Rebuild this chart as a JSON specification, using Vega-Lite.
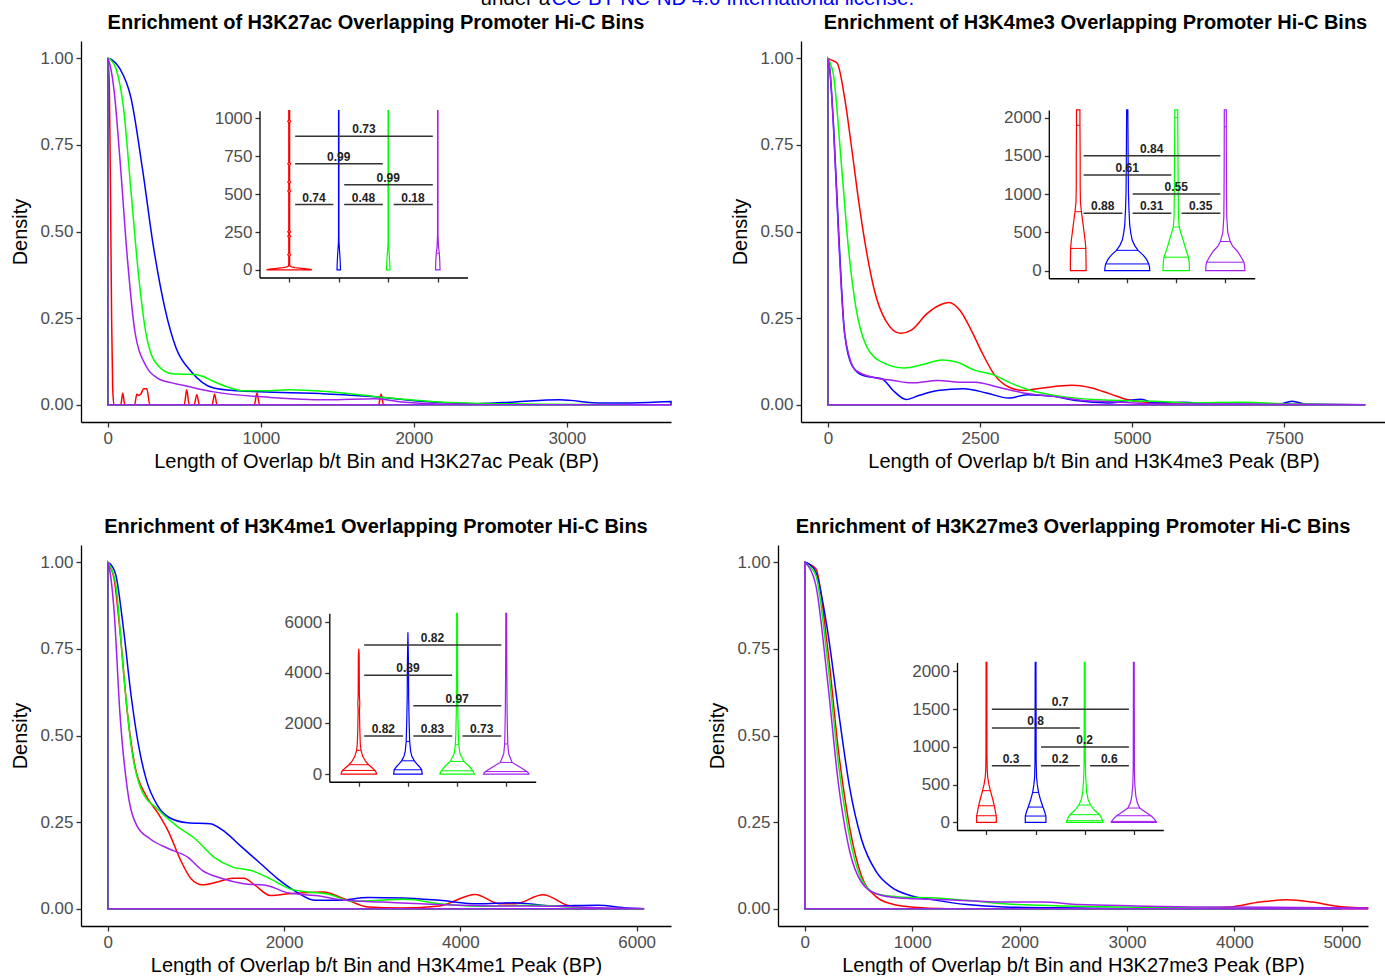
{
"$schema": "https://vega.github.io/schema/vega-lite/v6.json",
"padding": {"left": 10, "top": -12, "right": 0, "bottom": 0},
"title": {"text": "under a", "anchor": "start", "frame": "group", "dx": 399.5, "fontSize": 20.5, "fontWeight": "normal", "color": "#000000", "offset": -20.5},
"bounds": "flush",
"spacing": 504,
"datasets": {
"d1": [
{"g":"red","x":0,"y":1},{"g":"red","x":10,"y":0.93},{"g":"red","x":18,"y":0.6},{"g":"red","x":25,"y":0.25},{"g":"red","x":32,"y":0.05},{"g":"red","x":40,"y":0},{"g":"red","x":85,"y":0},{"g":"red","x":98,"y":0.034},{"g":"red","x":111,"y":0},{"g":"red","x":175,"y":0},{"g":"red","x":190,"y":0.03},{"g":"red","x":202,"y":0.027},{"g":"red","x":215,"y":0.03},{"g":"red","x":235,"y":0.046},{"g":"red","x":255,"y":0.046},{"g":"red","x":275,"y":0},{"g":"red","x":500,"y":0},{"g":"red","x":516,"y":0.043},{"g":"red","x":532,"y":0},{"g":"red","x":565,"y":0},{"g":"red","x":582,"y":0.029},{"g":"red","x":599,"y":0},{"g":"red","x":682,"y":0},{"g":"red","x":698,"y":0.031},{"g":"red","x":714,"y":0},{"g":"red","x":958,"y":0},{"g":"red","x":975,"y":0.034},{"g":"red","x":992,"y":0},{"g":"red","x":1770,"y":0},{"g":"red","x":1786,"y":0.031},{"g":"red","x":1802,"y":0},{"g":"red","x":1850,"y":0},
{"g":"blue","x":0,"y":1},{"g":"blue","x":30,"y":0.995},{"g":"blue","x":79,"y":0.97},{"g":"blue","x":152,"y":0.885},{"g":"blue","x":226,"y":0.683},{"g":"blue","x":300,"y":0.452},{"g":"blue","x":373,"y":0.279},{"g":"blue","x":447,"y":0.163},{"g":"blue","x":545,"y":0.096},{"g":"blue","x":693,"y":0.048},{"g":"blue","x":850,"y":0.04},{"g":"blue","x":1000,"y":0.037},{"g":"blue","x":1430,"y":0.031},{"g":"blue","x":1799,"y":0.021},{"g":"blue","x":2044,"y":0.01},{"g":"blue","x":2413,"y":0.003},{"g":"blue","x":2658,"y":0.008},{"g":"blue","x":2953,"y":0.014},{"g":"blue","x":3224,"y":0.005},{"g":"blue","x":3420,"y":0.005},{"g":"blue","x":3681,"y":0.009},
{"g":"green","x":0,"y":1},{"g":"green","x":20,"y":0.995},{"g":"green","x":54,"y":0.97},{"g":"green","x":103,"y":0.856},{"g":"green","x":152,"y":0.615},{"g":"green","x":201,"y":0.375},{"g":"green","x":251,"y":0.202},{"g":"green","x":324,"y":0.115},{"g":"green","x":423,"y":0.089},{"g":"green","x":500,"y":0.088},{"g":"green","x":570,"y":0.087},{"g":"green","x":630,"y":0.08},{"g":"green","x":693,"y":0.067},{"g":"green","x":790,"y":0.05},{"g":"green","x":890,"y":0.04},{"g":"green","x":1030,"y":0.04},{"g":"green","x":1184,"y":0.043},{"g":"green","x":1430,"y":0.038},{"g":"green","x":1799,"y":0.021},{"g":"green","x":2167,"y":0.008},{"g":"green","x":2536,"y":0.003},{"g":"green","x":2900,"y":0.001},{"g":"green","x":3400,"y":0},
{"g":"purple","x":0,"y":1},{"g":"purple","x":15,"y":0.98},{"g":"purple","x":42,"y":0.904},{"g":"purple","x":79,"y":0.712},{"g":"purple","x":128,"y":0.423},{"g":"purple","x":177,"y":0.212},{"g":"purple","x":251,"y":0.111},{"g":"purple","x":324,"y":0.077},{"g":"purple","x":420,"y":0.063},{"g":"purple","x":521,"y":0.053},{"g":"purple","x":693,"y":0.037},{"g":"purple","x":1061,"y":0.021},{"g":"purple","x":1430,"y":0.014},{"g":"purple","x":1750,"y":0.017},{"g":"purple","x":1921,"y":0.008},{"g":"purple","x":2167,"y":0.002},{"g":"purple","x":2600,"y":0},{"g":"purple","x":3681,"y":0}
],
"d2": [
{"g":"red","x":0,"y":1},{"g":"red","x":60,"y":0.995},{"g":"red","x":153,"y":0.986},{"g":"red","x":276,"y":0.885},{"g":"red","x":398,"y":0.731},{"g":"red","x":521,"y":0.569},{"g":"red","x":643,"y":0.434},{"g":"red","x":766,"y":0.329},{"g":"red","x":950,"y":0.243},{"g":"red","x":1195,"y":0.206},{"g":"red","x":1379,"y":0.216},{"g":"red","x":1624,"y":0.262},{"g":"red","x":1869,"y":0.29},{"g":"red","x":1991,"y":0.295},{"g":"red","x":2175,"y":0.271},{"g":"red","x":2359,"y":0.214},{"g":"red","x":2543,"y":0.147},{"g":"red","x":2727,"y":0.089},{"g":"red","x":2972,"y":0.051},{"g":"red","x":3217,"y":0.041},{"g":"red","x":3523,"y":0.048},{"g":"red","x":4013,"y":0.056},{"g":"red","x":4320,"y":0.049},{"g":"red","x":4626,"y":0.032},{"g":"red","x":4933,"y":0.014},{"g":"red","x":5362,"y":0.005},{"g":"red","x":6000,"y":0.001},{"g":"red","x":8833,"y":0},
{"g":"blue","x":0,"y":1},{"g":"blue","x":30,"y":0.97},{"g":"blue","x":92,"y":0.808},{"g":"blue","x":184,"y":0.473},{"g":"blue","x":276,"y":0.204},{"g":"blue","x":398,"y":0.113},{"g":"blue","x":582,"y":0.084},{"g":"blue","x":888,"y":0.075},{"g":"blue","x":1072,"y":0.041},{"g":"blue","x":1287,"y":0.015},{"g":"blue","x":1501,"y":0.027},{"g":"blue","x":1808,"y":0.041},{"g":"blue","x":2237,"y":0.046},{"g":"blue","x":2604,"y":0.034},{"g":"blue","x":2972,"y":0.019},{"g":"blue","x":3278,"y":0.029},{"g":"blue","x":3707,"y":0.024},{"g":"blue","x":4075,"y":0.012},{"g":"blue","x":4626,"y":0.005},{"g":"blue","x":5148,"y":0.016},{"g":"blue","x":5362,"y":0.005},{"g":"blue","x":5852,"y":0.007},{"g":"blue","x":6281,"y":0.001},{"g":"blue","x":7400,"y":0.001},{"g":"blue","x":7629,"y":0.01},{"g":"blue","x":7874,"y":0.001},{"g":"blue","x":8833,"y":0},
{"g":"green","x":0,"y":1},{"g":"green","x":30,"y":0.99},{"g":"green","x":92,"y":0.952},{"g":"green","x":214,"y":0.712},{"g":"green","x":337,"y":0.453},{"g":"green","x":460,"y":0.281},{"g":"green","x":643,"y":0.166},{"g":"green","x":888,"y":0.123},{"g":"green","x":1256,"y":0.106},{"g":"green","x":1562,"y":0.116},{"g":"green","x":1869,"y":0.129},{"g":"green","x":2114,"y":0.123},{"g":"green","x":2420,"y":0.099},{"g":"green","x":2727,"y":0.086},{"g":"green","x":2972,"y":0.065},{"g":"green","x":3339,"y":0.041},{"g":"green","x":3830,"y":0.024},{"g":"green","x":4442,"y":0.014},{"g":"green","x":5362,"y":0.01},{"g":"green","x":5974,"y":0.005},{"g":"green","x":6771,"y":0.007},{"g":"green","x":7506,"y":0.003},{"g":"green","x":8833,"y":0},
{"g":"purple","x":0,"y":1},{"g":"purple","x":30,"y":0.97},{"g":"purple","x":92,"y":0.8},{"g":"purple","x":184,"y":0.455},{"g":"purple","x":276,"y":0.204},{"g":"purple","x":460,"y":0.099},{"g":"purple","x":766,"y":0.078},{"g":"purple","x":1072,"y":0.07},{"g":"purple","x":1379,"y":0.063},{"g":"purple","x":1808,"y":0.07},{"g":"purple","x":2175,"y":0.065},{"g":"purple","x":2420,"y":0.065},{"g":"purple","x":2788,"y":0.051},{"g":"purple","x":3217,"y":0.034},{"g":"purple","x":3707,"y":0.024},{"g":"purple","x":4197,"y":0.012},{"g":"purple","x":4749,"y":0.008},{"g":"purple","x":5362,"y":0.002},{"g":"purple","x":8833,"y":0}
],
"d3": [
{"g":"red","x":0,"y":1},{"g":"red","x":25,"y":0.99},{"g":"red","x":73,"y":0.95},{"g":"red","x":137,"y":0.806},{"g":"red","x":222,"y":0.566},{"g":"red","x":307,"y":0.413},{"g":"red","x":435,"y":0.326},{"g":"red","x":563,"y":0.278},{"g":"red","x":691,"y":0.221},{"g":"red","x":819,"y":0.144},{"g":"red","x":947,"y":0.086},{"g":"red","x":1075,"y":0.069},{"g":"red","x":1246,"y":0.077},{"g":"red","x":1417,"y":0.088},{"g":"red","x":1545,"y":0.088},{"g":"red","x":1673,"y":0.067},{"g":"red","x":1844,"y":0.038},{"g":"red","x":2057,"y":0.043},{"g":"red","x":2441,"y":0.048},{"g":"red","x":2697,"y":0.027},{"g":"red","x":2953,"y":0.005},{"g":"red","x":3338,"y":0.002},{"g":"red","x":3764,"y":0.008},{"g":"red","x":4170,"y":0.041},{"g":"red","x":4447,"y":0.014},{"g":"red","x":4618,"y":0.014},{"g":"red","x":4938,"y":0.04},{"g":"red","x":5216,"y":0.01},{"g":"red","x":5472,"y":0},{"g":"red","x":6085,"y":0},
{"g":"blue","x":0,"y":1},{"g":"blue","x":30,"y":0.995},{"g":"blue","x":94,"y":0.96},{"g":"blue","x":179,"y":0.806},{"g":"blue","x":265,"y":0.614},{"g":"blue","x":350,"y":0.47},{"g":"blue","x":435,"y":0.374},{"g":"blue","x":563,"y":0.298},{"g":"blue","x":691,"y":0.264},{"g":"blue","x":905,"y":0.248},{"g":"blue","x":1161,"y":0.245},{"g":"blue","x":1332,"y":0.221},{"g":"blue","x":1502,"y":0.182},{"g":"blue","x":1716,"y":0.134},{"g":"blue","x":1929,"y":0.086},{"g":"blue","x":2143,"y":0.048},{"g":"blue","x":2356,"y":0.024},{"g":"blue","x":2612,"y":0.024},{"g":"blue","x":2953,"y":0.032},{"g":"blue","x":3338,"y":0.031},{"g":"blue","x":3764,"y":0.024},{"g":"blue","x":4191,"y":0.014},{"g":"blue","x":4618,"y":0.017},{"g":"blue","x":5044,"y":0.008},{"g":"blue","x":5557,"y":0.01},{"g":"blue","x":5898,"y":0.002},{"g":"blue","x":6085,"y":0},
{"g":"green","x":0,"y":1},{"g":"green","x":25,"y":0.99},{"g":"green","x":94,"y":0.93},{"g":"green","x":179,"y":0.681},{"g":"green","x":265,"y":0.47},{"g":"green","x":393,"y":0.336},{"g":"green","x":563,"y":0.288},{"g":"green","x":777,"y":0.24},{"g":"green","x":990,"y":0.202},{"g":"green","x":1203,"y":0.149},{"g":"green","x":1417,"y":0.12},{"g":"green","x":1630,"y":0.11},{"g":"green","x":1844,"y":0.086},{"g":"green","x":2057,"y":0.058},{"g":"green","x":2271,"y":0.048},{"g":"green","x":2484,"y":0.043},{"g":"green","x":2783,"y":0.021},{"g":"green","x":3381,"y":0.027},{"g":"green","x":3764,"y":0.014},{"g":"green","x":4191,"y":0.007},{"g":"green","x":4831,"y":0.01},{"g":"green","x":5258,"y":0.005},{"g":"green","x":5898,"y":0},{"g":"green","x":6085,"y":0},
{"g":"purple","x":0,"y":1},{"g":"purple","x":20,"y":0.98},{"g":"purple","x":73,"y":0.854},{"g":"purple","x":137,"y":0.566},{"g":"purple","x":222,"y":0.345},{"g":"purple","x":329,"y":0.24},{"g":"purple","x":478,"y":0.202},{"g":"purple","x":691,"y":0.173},{"g":"purple","x":905,"y":0.149},{"g":"purple","x":1075,"y":0.11},{"g":"purple","x":1288,"y":0.088},{"g":"purple","x":1545,"y":0.072},{"g":"purple","x":1801,"y":0.067},{"g":"purple","x":2057,"y":0.045},{"g":"purple","x":2356,"y":0.038},{"g":"purple","x":2697,"y":0.024},{"g":"purple","x":3124,"y":0.019},{"g":"purple","x":3551,"y":0.014},{"g":"purple","x":3978,"y":0.01},{"g":"purple","x":4405,"y":0.008},{"g":"purple","x":5044,"y":0.007},{"g":"purple","x":5685,"y":0.002},{"g":"purple","x":6085,"y":0}
],
"d4": [
{"g":"red","x":0,"y":1},{"g":"red","x":40,"y":0.995},{"g":"red","x":105,"y":0.98},{"g":"red","x":210,"y":0.758},{"g":"red","x":315,"y":0.451},{"g":"red","x":420,"y":0.23},{"g":"red","x":526,"y":0.096},{"g":"red","x":666,"y":0.034},{"g":"red","x":806,"y":0.014},{"g":"red","x":981,"y":0.005},{"g":"red","x":1331,"y":0},{"g":"red","x":3700,"y":0},{"g":"red","x":3959,"y":0.005},{"g":"red","x":4240,"y":0.019},{"g":"red","x":4485,"y":0.026},{"g":"red","x":4730,"y":0.019},{"g":"red","x":4940,"y":0.008},{"g":"red","x":5240,"y":0.002},
{"g":"blue","x":0,"y":1},{"g":"blue","x":40,"y":0.995},{"g":"blue","x":105,"y":0.97},{"g":"blue","x":210,"y":0.806},{"g":"blue","x":315,"y":0.566},{"g":"blue","x":420,"y":0.345},{"g":"blue","x":526,"y":0.202},{"g":"blue","x":666,"y":0.106},{"g":"blue","x":806,"y":0.062},{"g":"blue","x":981,"y":0.038},{"g":"blue","x":1226,"y":0.024},{"g":"blue","x":1507,"y":0.012},{"g":"blue","x":1857,"y":0.005},{"g":"blue","x":2558,"y":0.002},{"g":"blue","x":3200,"y":0},{"g":"blue","x":4994,"y":0},
{"g":"green","x":0,"y":1},{"g":"green","x":40,"y":0.99},{"g":"green","x":105,"y":0.96},{"g":"green","x":210,"y":0.72},{"g":"green","x":315,"y":0.413},{"g":"green","x":420,"y":0.202},{"g":"green","x":526,"y":0.086},{"g":"green","x":666,"y":0.043},{"g":"green","x":876,"y":0.034},{"g":"green","x":1226,"y":0.031},{"g":"green","x":1507,"y":0.024},{"g":"green","x":1857,"y":0.014},{"g":"green","x":2383,"y":0.008},{"g":"green","x":2908,"y":0.005},{"g":"green","x":3600,"y":0.002},{"g":"green","x":4994,"y":0},
{"g":"purple","x":0,"y":1},{"g":"purple","x":30,"y":0.99},{"g":"purple","x":105,"y":0.93},{"g":"purple","x":210,"y":0.662},{"g":"purple","x":315,"y":0.355},{"g":"purple","x":420,"y":0.163},{"g":"purple","x":526,"y":0.077},{"g":"purple","x":666,"y":0.043},{"g":"purple","x":876,"y":0.031},{"g":"purple","x":1331,"y":0.026},{"g":"purple","x":1857,"y":0.019},{"g":"purple","x":2207,"y":0.019},{"g":"purple","x":2558,"y":0.012},{"g":"purple","x":3084,"y":0.008},{"g":"purple","x":3609,"y":0.005},{"g":"purple","x":4310,"y":0.004},{"g":"purple","x":5240,"y":0.002}
],
"v1": [
{"g":"red","v":0,"lo":0.54,"hi":1.46},{"g":"red","v":5,"lo":0.6,"hi":1.4},{"g":"red","v":10,"lo":0.75,"hi":1.25},{"g":"red","v":15,"lo":0.88,"hi":1.12},{"g":"red","v":20,"lo":0.95,"hi":1.05},{"g":"red","v":25,"lo":0.985,"hi":1.015},{"g":"red","v":40,"lo":0.99,"hi":1.01},{"g":"red","v":92,"lo":0.99,"hi":1.01},{"g":"red","v":100,"lo":0.97,"hi":1.03},{"g":"red","v":108,"lo":0.99,"hi":1.01},{"g":"red","v":215,"lo":0.99,"hi":1.01},{"g":"red","v":222,"lo":0.97,"hi":1.03},{"g":"red","v":229,"lo":0.99,"hi":1.01},{"g":"red","v":245,"lo":0.99,"hi":1.01},{"g":"red","v":252,"lo":0.97,"hi":1.03},{"g":"red","v":259,"lo":0.99,"hi":1.01},{"g":"red","v":512,"lo":0.99,"hi":1.01},{"g":"red","v":520,"lo":0.97,"hi":1.03},{"g":"red","v":528,"lo":0.99,"hi":1.01},{"g":"red","v":572,"lo":0.99,"hi":1.01},{"g":"red","v":580,"lo":0.97,"hi":1.03},{"g":"red","v":588,"lo":0.99,"hi":1.01},{"g":"red","v":692,"lo":0.99,"hi":1.01},{"g":"red","v":700,"lo":0.97,"hi":1.03},{"g":"red","v":708,"lo":0.99,"hi":1.01},{"g":"red","v":972,"lo":0.99,"hi":1.01},{"g":"red","v":980,"lo":0.97,"hi":1.03},{"g":"red","v":988,"lo":0.99,"hi":1.01},{"g":"red","v":1050,"lo":0.99,"hi":1.01},
{"g":"blue","v":0,"lo":1.965,"hi":2.035},{"g":"blue","v":50,"lo":1.97,"hi":2.03},{"g":"blue","v":100,"lo":1.978,"hi":2.022},{"g":"blue","v":150,"lo":1.988,"hi":2.012},{"g":"blue","v":180,"lo":1.994,"hi":2.006},{"g":"blue","v":220,"lo":1.996,"hi":2.004},{"g":"blue","v":1050,"lo":1.996,"hi":2.004},
{"g":"green","v":0,"lo":2.965,"hi":3.035},{"g":"green","v":50,"lo":2.97,"hi":3.03},{"g":"green","v":100,"lo":2.98,"hi":3.02},{"g":"green","v":150,"lo":2.992,"hi":3.008},{"g":"green","v":180,"lo":2.996,"hi":3.004},{"g":"green","v":1050,"lo":2.996,"hi":3.004},
{"g":"purple","v":0,"lo":3.955,"hi":4.045},{"g":"purple","v":60,"lo":3.96,"hi":4.04},{"g":"purple","v":110,"lo":3.97,"hi":4.03},{"g":"purple","v":150,"lo":3.985,"hi":4.015},{"g":"purple","v":230,"lo":3.995,"hi":4.005},{"g":"purple","v":1050,"lo":3.996,"hi":4.004}
],
"q1": [
{"g":"purple","v":110,"lo":3.97,"hi":4.03}
],
"b1": [
{"v":882,"x1":1.12,"x2":3.9,"xm":2.51,"lab":"0.73"},{"v":700,"x1":1.12,"x2":2.89,"xm":2.0,"lab":"0.99"},{"v":562,"x1":2.11,"x2":3.9,"xm":3.0,"lab":"0.99"},{"v":431,"x1":1.12,"x2":1.89,"xm":1.5,"lab":"0.74"},{"v":431,"x1":2.11,"x2":2.89,"xm":2.5,"lab":"0.48"},{"v":431,"x1":3.11,"x2":3.9,"xm":3.5,"lab":"0.18"}
],
"v2": [
{"g":"red","v":0,"lo":0.84,"hi":1.16},{"g":"red","v":100,"lo":0.84,"hi":1.16},{"g":"red","v":290,"lo":0.845,"hi":1.155},{"g":"red","v":400,"lo":0.86,"hi":1.14},{"g":"red","v":500,"lo":0.88,"hi":1.12},{"g":"red","v":650,"lo":0.91,"hi":1.09},{"g":"red","v":770,"lo":0.935,"hi":1.065},{"g":"red","v":900,"lo":0.955,"hi":1.045},{"g":"red","v":1100,"lo":0.96,"hi":1.04},{"g":"red","v":1500,"lo":0.96,"hi":1.04},{"g":"red","v":1900,"lo":0.965,"hi":1.035},{"g":"red","v":2100,"lo":0.965,"hi":1.035},
{"g":"blue","v":0,"lo":1.54,"hi":2.46},{"g":"blue","v":40,"lo":1.545,"hi":2.455},{"g":"blue","v":87,"lo":1.56,"hi":2.44},{"g":"blue","v":150,"lo":1.61,"hi":2.39},{"g":"blue","v":200,"lo":1.67,"hi":2.33},{"g":"blue","v":265,"lo":1.78,"hi":2.22},{"g":"blue","v":330,"lo":1.85,"hi":2.15},{"g":"blue","v":400,"lo":1.9,"hi":2.1},{"g":"blue","v":500,"lo":1.93,"hi":2.07},{"g":"blue","v":600,"lo":1.95,"hi":2.05},{"g":"blue","v":800,"lo":1.965,"hi":2.035},{"g":"blue","v":1000,"lo":1.975,"hi":2.025},{"g":"blue","v":1500,"lo":1.982,"hi":2.018},{"g":"blue","v":2100,"lo":1.988,"hi":2.012},
{"g":"green","v":0,"lo":2.73,"hi":3.27},{"g":"green","v":100,"lo":2.735,"hi":3.265},{"g":"green","v":175,"lo":2.75,"hi":3.25},{"g":"green","v":250,"lo":2.79,"hi":3.21},{"g":"green","v":330,"lo":2.83,"hi":3.17},{"g":"green","v":400,"lo":2.86,"hi":3.14},{"g":"green","v":500,"lo":2.91,"hi":3.09},{"g":"green","v":570,"lo":2.94,"hi":3.06},{"g":"green","v":700,"lo":2.955,"hi":3.045},{"g":"green","v":1000,"lo":2.96,"hi":3.04},{"g":"green","v":1500,"lo":2.965,"hi":3.035},{"g":"green","v":2000,"lo":2.97,"hi":3.03},{"g":"green","v":2100,"lo":2.97,"hi":3.03},
{"g":"purple","v":0,"lo":3.6,"hi":4.4},{"g":"purple","v":60,"lo":3.605,"hi":4.395},{"g":"purple","v":110,"lo":3.62,"hi":4.38},{"g":"purple","v":180,"lo":3.68,"hi":4.32},{"g":"purple","v":250,"lo":3.75,"hi":4.25},{"g":"purple","v":320,"lo":3.85,"hi":4.15},{"g":"purple","v":380,"lo":3.9,"hi":4.1},{"g":"purple","v":500,"lo":3.95,"hi":4.05},{"g":"purple","v":700,"lo":3.97,"hi":4.03},{"g":"purple","v":1000,"lo":3.975,"hi":4.025},{"g":"purple","v":1500,"lo":3.978,"hi":4.022},{"g":"purple","v":2100,"lo":3.98,"hi":4.02}
],
"q2": [
{"g":"red","v":290,"lo":0.845,"hi":1.155},{"g":"red","v":770,"lo":0.935,"hi":1.065},{"g":"red","v":1900,"lo":0.965,"hi":1.035},
{"g":"blue","v":87,"lo":1.56,"hi":2.44},{"g":"blue","v":265,"lo":1.78,"hi":2.22},
{"g":"green","v":175,"lo":2.75,"hi":3.25},{"g":"green","v":570,"lo":2.94,"hi":3.06},{"g":"green","v":2000,"lo":2.97,"hi":3.03},
{"g":"purple","v":110,"lo":3.62,"hi":4.38},{"g":"purple","v":380,"lo":3.9,"hi":4.1},{"g":"purple","v":1880,"lo":3.978,"hi":4.022}
],
"b2": [
{"v":1500,"x1":1.11,"x2":3.9,"xm":2.5,"lab":"0.84"},{"v":1250,"x1":1.11,"x2":2.9,"xm":2.0,"lab":"0.61"},{"v":1000,"x1":2.11,"x2":3.9,"xm":3.0,"lab":"0.55"},{"v":750,"x1":1.11,"x2":1.9,"xm":1.5,"lab":"0.88"},{"v":750,"x1":2.11,"x2":2.9,"xm":2.5,"lab":"0.31"},{"v":750,"x1":3.11,"x2":3.9,"xm":3.5,"lab":"0.35"}
],
"v3": [
{"g":"red","v":0,"lo":0.64,"hi":1.36},{"g":"red","v":80,"lo":0.65,"hi":1.35},{"g":"red","v":145,"lo":0.67,"hi":1.33},{"g":"red","v":250,"lo":0.73,"hi":1.27},{"g":"red","v":370,"lo":0.8,"hi":1.2},{"g":"red","v":500,"lo":0.86,"hi":1.14},{"g":"red","v":700,"lo":0.92,"hi":1.08},{"g":"red","v":940,"lo":0.955,"hi":1.045},{"g":"red","v":1200,"lo":0.97,"hi":1.03},{"g":"red","v":1800,"lo":0.98,"hi":1.02},{"g":"red","v":2500,"lo":0.987,"hi":1.013},{"g":"red","v":2800,"lo":0.98,"hi":1.02},{"g":"red","v":3100,"lo":0.988,"hi":1.012},{"g":"red","v":4000,"lo":0.99,"hi":1.01},{"g":"red","v":4700,"lo":0.992,"hi":1.008},{"g":"red","v":4950,"lo":1,"hi":1},
{"g":"blue","v":0,"lo":1.71,"hi":2.29},{"g":"blue","v":80,"lo":1.715,"hi":2.285},{"g":"blue","v":170,"lo":1.72,"hi":2.28},{"g":"blue","v":300,"lo":1.77,"hi":2.23},{"g":"blue","v":400,"lo":1.82,"hi":2.18},{"g":"blue","v":525,"lo":1.87,"hi":2.13},{"g":"blue","v":700,"lo":1.92,"hi":2.08},{"g":"blue","v":900,"lo":1.945,"hi":2.055},{"g":"blue","v":1290,"lo":1.965,"hi":2.035},{"g":"blue","v":1700,"lo":1.97,"hi":2.03},{"g":"blue","v":2000,"lo":1.975,"hi":2.025},{"g":"blue","v":3000,"lo":1.985,"hi":2.015},{"g":"blue","v":4500,"lo":1.99,"hi":2.01},{"g":"blue","v":5600,"lo":2,"hi":2},
{"g":"green","v":0,"lo":2.65,"hi":3.35},{"g":"green","v":60,"lo":2.66,"hi":3.34},{"g":"green","v":130,"lo":2.68,"hi":3.32},{"g":"green","v":300,"lo":2.75,"hi":3.25},{"g":"green","v":500,"lo":2.86,"hi":3.14},{"g":"green","v":800,"lo":2.94,"hi":3.06},{"g":"green","v":1160,"lo":2.965,"hi":3.035},{"g":"green","v":1600,"lo":2.975,"hi":3.025},{"g":"green","v":2500,"lo":2.985,"hi":3.015},{"g":"green","v":4000,"lo":2.99,"hi":3.01},{"g":"green","v":6350,"lo":2.992,"hi":3.008},
{"g":"purple","v":0,"lo":3.54,"hi":4.46},{"g":"purple","v":50,"lo":3.55,"hi":4.45},{"g":"purple","v":100,"lo":3.58,"hi":4.42},{"g":"purple","v":250,"lo":3.7,"hi":4.3},{"g":"purple","v":460,"lo":3.88,"hi":4.12},{"g":"purple","v":800,"lo":3.95,"hi":4.05},{"g":"purple","v":1190,"lo":3.968,"hi":4.032},{"g":"purple","v":1700,"lo":3.975,"hi":4.025},{"g":"purple","v":2500,"lo":3.982,"hi":4.018},{"g":"purple","v":4000,"lo":3.988,"hi":4.012},{"g":"purple","v":6350,"lo":3.992,"hi":4.008}
],
"q3": [
{"g":"red","v":145,"lo":0.67,"hi":1.33},{"g":"red","v":370,"lo":0.8,"hi":1.2},{"g":"red","v":940,"lo":0.955,"hi":1.045},
{"g":"blue","v":170,"lo":1.72,"hi":2.28},{"g":"blue","v":525,"lo":1.87,"hi":2.13},{"g":"blue","v":1290,"lo":1.965,"hi":2.035},
{"g":"green","v":130,"lo":2.68,"hi":3.32},{"g":"green","v":500,"lo":2.86,"hi":3.14},{"g":"green","v":1160,"lo":2.965,"hi":3.035},
{"g":"purple","v":100,"lo":3.58,"hi":4.42},{"g":"purple","v":460,"lo":3.88,"hi":4.12},{"g":"purple","v":1190,"lo":3.968,"hi":4.032}
],
"b3": [
{"v":5100,"x1":1.11,"x2":3.9,"xm":2.5,"lab":"0.82"},{"v":3900,"x1":1.11,"x2":2.9,"xm":2.0,"lab":"0.89"},{"v":2700,"x1":2.11,"x2":3.9,"xm":3.0,"lab":"0.97"},{"v":1500,"x1":1.11,"x2":1.9,"xm":1.5,"lab":"0.82"},{"v":1500,"x1":2.11,"x2":2.9,"xm":2.5,"lab":"0.83"},{"v":1500,"x1":3.11,"x2":3.9,"xm":3.5,"lab":"0.73"}
],
"v4": [
{"g":"red","v":0,"lo":0.8,"hi":1.2},{"g":"red","v":88,"lo":0.8,"hi":1.2},{"g":"red","v":150,"lo":0.82,"hi":1.18},{"g":"red","v":220,"lo":0.84,"hi":1.16},{"g":"red","v":300,"lo":0.87,"hi":1.13},{"g":"red","v":420,"lo":0.92,"hi":1.08},{"g":"red","v":500,"lo":0.95,"hi":1.05},{"g":"red","v":600,"lo":0.975,"hi":1.025},{"g":"red","v":700,"lo":0.985,"hi":1.015},{"g":"red","v":900,"lo":0.99,"hi":1.01},{"g":"red","v":2120,"lo":0.992,"hi":1.008},
{"g":"blue","v":0,"lo":1.79,"hi":2.21},{"g":"blue","v":84,"lo":1.79,"hi":2.21},{"g":"blue","v":150,"lo":1.82,"hi":2.18},{"g":"blue","v":203,"lo":1.85,"hi":2.15},{"g":"blue","v":300,"lo":1.9,"hi":2.1},{"g":"blue","v":397,"lo":1.94,"hi":2.06},{"g":"blue","v":500,"lo":1.965,"hi":2.035},{"g":"blue","v":600,"lo":1.98,"hi":2.02},{"g":"blue","v":800,"lo":1.988,"hi":2.012},{"g":"blue","v":2120,"lo":1.992,"hi":2.008},
{"g":"green","v":0,"lo":2.63,"hi":3.37},{"g":"green","v":22,"lo":2.635,"hi":3.365},{"g":"green","v":60,"lo":2.66,"hi":3.34},{"g":"green","v":102,"lo":2.7,"hi":3.3},{"g":"green","v":160,"lo":2.8,"hi":3.2},{"g":"green","v":230,"lo":2.88,"hi":3.12},{"g":"green","v":300,"lo":2.93,"hi":3.07},{"g":"green","v":400,"lo":2.96,"hi":3.04},{"g":"green","v":600,"lo":2.98,"hi":3.02},{"g":"green","v":800,"lo":2.988,"hi":3.012},{"g":"green","v":2120,"lo":2.992,"hi":3.008},
{"g":"purple","v":0,"lo":3.54,"hi":4.46},{"g":"purple","v":13,"lo":3.545,"hi":4.455},{"g":"purple","v":50,"lo":3.59,"hi":4.41},{"g":"purple","v":88,"lo":3.65,"hi":4.35},{"g":"purple","v":130,"lo":3.75,"hi":4.25},{"g":"purple","v":190,"lo":3.88,"hi":4.12},{"g":"purple","v":260,"lo":3.93,"hi":4.07},{"g":"purple","v":350,"lo":3.96,"hi":4.04},{"g":"purple","v":500,"lo":3.98,"hi":4.02},{"g":"purple","v":700,"lo":3.988,"hi":4.012},{"g":"purple","v":2120,"lo":3.992,"hi":4.008}
],
"q4": [
{"g":"red","v":88,"lo":0.8,"hi":1.2},{"g":"red","v":220,"lo":0.84,"hi":1.16},{"g":"red","v":420,"lo":0.92,"hi":1.08},
{"g":"blue","v":84,"lo":1.79,"hi":2.21},{"g":"blue","v":203,"lo":1.85,"hi":2.15},{"g":"blue","v":397,"lo":1.94,"hi":2.06},
{"g":"green","v":22,"lo":2.635,"hi":3.365},{"g":"green","v":102,"lo":2.7,"hi":3.3},{"g":"green","v":230,"lo":2.88,"hi":3.12},
{"g":"purple","v":13,"lo":3.545,"hi":4.455},{"g":"purple","v":88,"lo":3.65,"hi":4.35},{"g":"purple","v":190,"lo":3.88,"hi":4.12}
],
"b4": [
{"v":1500,"x1":1.11,"x2":3.9,"xm":2.5,"lab":"0.7"},{"v":1250,"x1":1.11,"x2":2.9,"xm":2.0,"lab":"0.8"},{"v":1000,"x1":2.11,"x2":3.9,"xm":3.0,"lab":"0.2"},{"v":750,"x1":1.11,"x2":1.9,"xm":1.5,"lab":"0.3"},{"v":750,"x1":2.11,"x2":2.9,"xm":2.5,"lab":"0.2"},{"v":750,"x1":3.11,"x2":3.9,"xm":3.5,"lab":"0.6"}
]
},
"vconcat": [
{"title": {"text": "CC-BY-NC-ND 4.0 International license.", "anchor": "start", "frame": "group", "dx": 470.5, "fontSize": 20.5, "fontWeight": "normal", "color": "#0000FF", "offset": 4},
 "hconcat": [
{"width": 590, "height": 381,
 "title": {"text": "Enrichment of H3K27ac Overlapping Promoter Hi-C Bins"},
 "layer": [
  {"data": {"name": "d1"}, "mark": {"type": "area", "fillOpacity": 0, "strokeWidth": 1.5, "interpolate": "monotone"},
   "encoding": {
    "x": {"field": "x", "type": "quantitative", "scale": {"domain": [-175, 3681], "nice": false, "zero": false}, "axis": {"orient": "bottom", "values": [0,1000,2000,3000], "format": "d", "title": "Length of Overlap b/t Bin and H3K27ac Peak (BP)", "titlePadding": 5}},
    "y": {"field": "y", "type": "quantitative", "stack": null, "scale": {"domain": [-0.05, 1.05], "nice": false, "zero": false}, "axis": {"orient": "left", "values": [0,0.25,0.5,0.75,1], "format": ".2f", "title": "Density", "titlePadding": 9}},
    "stroke": {"field": "g", "type": "nominal", "scale": {"domain": ["red","blue","green","purple"], "range": ["#FF0000","#0000FF","#00FF00","#A020F0"]}, "legend": null}}},
  {"layer": [
   {"data": {"name": "v1"}, "mark": {"type": "area", "orient": "horizontal", "fillOpacity": 0, "strokeWidth": 1.2},
    "encoding": {
     "y": {"field": "v", "type": "quantitative", "stack": null, "scale": {"domain": [-50, 1050], "range": [236.5, 69.7], "nice": false, "zero": false}, "axis": {"orient": "left", "offset": -178.5, "values": [0,250,500,750,1000], "format": "d", "title": null, "tickSize": 4.5}},
     "x": {"field": "lo", "type": "quantitative", "stack": null, "scale": {"domain": [0.4, 4.6], "range": [178.5, 386.5], "nice": false, "zero": false}, "axis": {"orient": "bottom", "offset": -144.5, "values": [1,2,3,4], "labels": false, "title": null, "tickSize": 4.5}},
     "x2": {"field": "hi"},
     "stroke": {"field": "g", "type": "nominal", "scale": {"domain": ["red","blue","green","purple"], "range": ["#FF0000","#0000FF","#00FF00","#A020F0"]}, "legend": null}}},
   {"data": {"name": "q1"}, "mark": {"type": "rule", "strokeWidth": 1},
    "encoding": {
     "y": {"field": "v", "type": "quantitative", "scale": {"domain": [-50, 1050], "range": [236.5, 69.7], "nice": false, "zero": false}},
     "x": {"field": "lo", "type": "quantitative", "scale": {"domain": [0.4, 4.6], "range": [178.5, 386.5], "nice": false, "zero": false}},
     "x2": {"field": "hi"},
     "stroke": {"field": "g", "type": "nominal", "scale": {"domain": ["red","blue","green","purple"], "range": ["#FF0000","#0000FF","#00FF00","#A020F0"]}, "legend": null}}},
   {"data": {"name": "b1"}, "mark": {"type": "rule", "color": "#333333", "strokeWidth": 1.5},
    "encoding": {
     "y": {"field": "v", "type": "quantitative", "scale": {"domain": [-50, 1050], "range": [236.5, 69.7], "nice": false, "zero": false}},
     "x": {"field": "x1", "type": "quantitative", "scale": {"domain": [0.4, 4.6], "range": [178.5, 386.5], "nice": false, "zero": false}},
     "x2": {"field": "x2"}}},
   {"data": {"name": "b1"}, "mark": {"type": "text", "fontWeight": "bold", "fontSize": 12, "dy": -3, "baseline": "alphabetic", "color": "#222222"},
    "encoding": {
     "y": {"field": "v", "type": "quantitative", "scale": {"domain": [-50, 1050], "range": [236.5, 69.7], "nice": false, "zero": false}},
     "x": {"field": "xm", "type": "quantitative", "scale": {"domain": [0.4, 4.6], "range": [178.5, 386.5], "nice": false, "zero": false}},
     "text": {"field": "lab", "type": "nominal"}}}
  ]}
 ],
 "resolve": {"scale": {"x": "independent", "y": "independent"}}
},
{"width": 585, "height": 381,
 "title": {"text": "Enrichment of H3K4me3 Overlapping Promoter Hi-C Bins", "dx": 2},
 "layer": [
  {"data": {"name": "d2"}, "mark": {"type": "area", "fillOpacity": 0, "strokeWidth": 1.5, "interpolate": "monotone"},
   "encoding": {
    "x": {"field": "x", "type": "quantitative", "scale": {"domain": [-442, 9173], "nice": false, "zero": false}, "axis": {"orient": "bottom", "values": [0,2500,5000,7500], "format": "d", "title": "Length of Overlap b/t Bin and H3K4me3 Peak (BP)", "titlePadding": 5}},
    "y": {"field": "y", "type": "quantitative", "stack": null, "scale": {"domain": [-0.05, 1.05], "nice": false, "zero": false}, "axis": {"orient": "left", "values": [0,0.25,0.5,0.75,1], "format": ".2f", "title": "Density", "titlePadding": 9}},
    "stroke": {"field": "g", "type": "nominal", "scale": {"domain": ["red","blue","green","purple"], "range": ["#FF0000","#0000FF","#00FF00","#A020F0"]}, "legend": null}}},
  {"layer": [
   {"data": {"name": "v2"}, "mark": {"type": "area", "orient": "horizontal", "fillOpacity": 0, "strokeWidth": 1.2},
    "encoding": {
     "y": {"field": "v", "type": "quantitative", "stack": null, "scale": {"domain": [-100, 2100], "range": [237.25, 68.95], "nice": false, "zero": false}, "axis": {"orient": "left", "offset": -247.8, "values": [0,500,1000,1500,2000], "format": "d", "title": null, "tickSize": 4.5}},
     "x": {"field": "lo", "type": "quantitative", "stack": null, "scale": {"domain": [0.4, 4.6], "range": [247.8, 453.7], "nice": false, "zero": false}, "axis": {"orient": "bottom", "offset": -143.75, "values": [1,2,3,4], "labels": false, "title": null, "tickSize": 4.5}},
     "x2": {"field": "hi"},
     "stroke": {"field": "g", "type": "nominal", "scale": {"domain": ["red","blue","green","purple"], "range": ["#FF0000","#0000FF","#00FF00","#A020F0"]}, "legend": null}}},
   {"data": {"name": "q2"}, "mark": {"type": "rule", "strokeWidth": 1},
    "encoding": {
     "y": {"field": "v", "type": "quantitative", "scale": {"domain": [-100, 2100], "range": [237.25, 68.95], "nice": false, "zero": false}},
     "x": {"field": "lo", "type": "quantitative", "scale": {"domain": [0.4, 4.6], "range": [247.8, 453.7], "nice": false, "zero": false}},
     "x2": {"field": "hi"},
     "stroke": {"field": "g", "type": "nominal", "scale": {"domain": ["red","blue","green","purple"], "range": ["#FF0000","#0000FF","#00FF00","#A020F0"]}, "legend": null}}},
   {"data": {"name": "b2"}, "mark": {"type": "rule", "color": "#333333", "strokeWidth": 1.5},
    "encoding": {
     "y": {"field": "v", "type": "quantitative", "scale": {"domain": [-100, 2100], "range": [237.25, 68.95], "nice": false, "zero": false}},
     "x": {"field": "x1", "type": "quantitative", "scale": {"domain": [0.4, 4.6], "range": [247.8, 453.7], "nice": false, "zero": false}},
     "x2": {"field": "x2"}}},
   {"data": {"name": "b2"}, "mark": {"type": "text", "fontWeight": "bold", "fontSize": 12, "dy": -3, "baseline": "alphabetic", "color": "#222222"},
    "encoding": {
     "y": {"field": "v", "type": "quantitative", "scale": {"domain": [-100, 2100], "range": [237.25, 68.95], "nice": false, "zero": false}},
     "x": {"field": "xm", "type": "quantitative", "scale": {"domain": [0.4, 4.6], "range": [247.8, 453.7], "nice": false, "zero": false}},
     "text": {"field": "lab", "type": "nominal"}}}
  ]}
 ],
 "resolve": {"scale": {"x": "independent", "y": "independent"}}
}
], "spacing": 130, "bounds": "flush"},
{"hconcat": [
{"width": 590, "height": 381,
 "title": {"text": "Enrichment of H3K4me1 Overlapping Promoter Hi-C Bins"},
 "layer": [
  {"data": {"name": "d3"}, "mark": {"type": "area", "fillOpacity": 0, "strokeWidth": 1.5, "interpolate": "monotone"},
   "encoding": {
    "x": {"field": "x", "type": "quantitative", "scale": {"domain": [-304, 6390], "nice": false, "zero": false}, "axis": {"orient": "bottom", "values": [0,2000,4000,6000], "format": "d", "title": "Length of Overlap b/t Bin and H3K4me1 Peak (BP)", "titlePadding": 5}},
    "y": {"field": "y", "type": "quantitative", "stack": null, "scale": {"domain": [-0.05, 1.05], "nice": false, "zero": false}, "axis": {"orient": "left", "values": [0,0.25,0.5,0.75,1], "format": ".2f", "title": "Density", "titlePadding": 9}},
    "stroke": {"field": "g", "type": "nominal", "scale": {"domain": ["red","blue","green","purple"], "range": ["#FF0000","#0000FF","#00FF00","#A020F0"]}, "legend": null}}},
  {"layer": [
   {"data": {"name": "v3"}, "mark": {"type": "area", "orient": "horizontal", "fillOpacity": 0, "strokeWidth": 1.2},
    "encoding": {
     "y": {"field": "v", "type": "quantitative", "stack": null, "scale": {"domain": [-302, 6352], "range": [236.75, 68.2], "nice": false, "zero": false}, "axis": {"orient": "left", "offset": -248.3, "values": [0,2000,4000,6000], "format": "d", "title": null, "tickSize": 4.5}},
     "x": {"field": "lo", "type": "quantitative", "stack": null, "scale": {"domain": [0.4, 4.6], "range": [248.3, 454.7], "nice": false, "zero": false}, "axis": {"orient": "bottom", "offset": -144.25, "values": [1,2,3,4], "labels": false, "title": null, "tickSize": 4.5}},
     "x2": {"field": "hi"},
     "stroke": {"field": "g", "type": "nominal", "scale": {"domain": ["red","blue","green","purple"], "range": ["#FF0000","#0000FF","#00FF00","#A020F0"]}, "legend": null}}},
   {"data": {"name": "q3"}, "mark": {"type": "rule", "strokeWidth": 1},
    "encoding": {
     "y": {"field": "v", "type": "quantitative", "scale": {"domain": [-302, 6352], "range": [236.75, 68.2], "nice": false, "zero": false}},
     "x": {"field": "lo", "type": "quantitative", "scale": {"domain": [0.4, 4.6], "range": [248.3, 454.7], "nice": false, "zero": false}},
     "x2": {"field": "hi"},
     "stroke": {"field": "g", "type": "nominal", "scale": {"domain": ["red","blue","green","purple"], "range": ["#FF0000","#0000FF","#00FF00","#A020F0"]}, "legend": null}}},
   {"data": {"name": "b3"}, "mark": {"type": "rule", "color": "#333333", "strokeWidth": 1.5},
    "encoding": {
     "y": {"field": "v", "type": "quantitative", "scale": {"domain": [-302, 6352], "range": [236.75, 68.2], "nice": false, "zero": false}},
     "x": {"field": "x1", "type": "quantitative", "scale": {"domain": [0.4, 4.6], "range": [248.3, 454.7], "nice": false, "zero": false}},
     "x2": {"field": "x2"}}},
   {"data": {"name": "b3"}, "mark": {"type": "text", "fontWeight": "bold", "fontSize": 12, "dy": -3, "baseline": "alphabetic", "color": "#222222"},
    "encoding": {
     "y": {"field": "v", "type": "quantitative", "scale": {"domain": [-302, 6352], "range": [236.75, 68.2], "nice": false, "zero": false}},
     "x": {"field": "xm", "type": "quantitative", "scale": {"domain": [0.4, 4.6], "range": [248.3, 454.7], "nice": false, "zero": false}},
     "text": {"field": "lab", "type": "nominal"}}}
  ]}
 ],
 "resolve": {"scale": {"x": "independent", "y": "independent"}}
},
{"width": 590, "height": 381,
 "title": {"text": "Enrichment of H3K27me3 Overlapping Promoter Hi-C Bins"},
 "layer": [
  {"data": {"name": "d4"}, "mark": {"type": "area", "fillOpacity": 0, "strokeWidth": 1.5, "interpolate": "monotone"},
   "encoding": {
    "x": {"field": "x", "type": "quantitative", "scale": {"domain": [-250, 5244], "nice": false, "zero": false}, "axis": {"orient": "bottom", "values": [0,1000,2000,3000,4000,5000], "format": "d", "title": "Length of Overlap b/t Bin and H3K27me3 Peak (BP)", "titlePadding": 5}},
    "y": {"field": "y", "type": "quantitative", "stack": null, "scale": {"domain": [-0.05, 1.05], "nice": false, "zero": false}, "axis": {"orient": "left", "values": [0,0.25,0.5,0.75,1], "format": ".2f", "title": "Density", "titlePadding": 9}},
    "stroke": {"field": "g", "type": "nominal", "scale": {"domain": ["red","blue","green","purple"], "range": ["#FF0000","#0000FF","#00FF00","#A020F0"]}, "legend": null}}},
  {"layer": [
   {"data": {"name": "v4"}, "mark": {"type": "area", "orient": "horizontal", "fillOpacity": 0, "strokeWidth": 1.2},
    "encoding": {
     "y": {"field": "v", "type": "quantitative", "stack": null, "scale": {"domain": [-101, 2121], "range": [285, 117.3], "nice": false, "zero": false}, "axis": {"orient": "left", "offset": -179, "values": [0,500,1000,1500,2000], "format": "d", "title": null, "tickSize": 4.5}},
     "x": {"field": "lo", "type": "quantitative", "stack": null, "scale": {"domain": [0.4, 4.6], "range": [179, 385.3], "nice": false, "zero": false}, "axis": {"orient": "bottom", "offset": -96, "values": [1,2,3,4], "labels": false, "title": null, "tickSize": 4.5}},
     "x2": {"field": "hi"},
     "stroke": {"field": "g", "type": "nominal", "scale": {"domain": ["red","blue","green","purple"], "range": ["#FF0000","#0000FF","#00FF00","#A020F0"]}, "legend": null}}},
   {"data": {"name": "q4"}, "mark": {"type": "rule", "strokeWidth": 1},
    "encoding": {
     "y": {"field": "v", "type": "quantitative", "scale": {"domain": [-101, 2121], "range": [285, 117.3], "nice": false, "zero": false}},
     "x": {"field": "lo", "type": "quantitative", "scale": {"domain": [0.4, 4.6], "range": [179, 385.3], "nice": false, "zero": false}},
     "x2": {"field": "hi"},
     "stroke": {"field": "g", "type": "nominal", "scale": {"domain": ["red","blue","green","purple"], "range": ["#FF0000","#0000FF","#00FF00","#A020F0"]}, "legend": null}}},
   {"data": {"name": "b4"}, "mark": {"type": "rule", "color": "#333333", "strokeWidth": 1.5},
    "encoding": {
     "y": {"field": "v", "type": "quantitative", "scale": {"domain": [-101, 2121], "range": [285, 117.3], "nice": false, "zero": false}},
     "x": {"field": "x1", "type": "quantitative", "scale": {"domain": [0.4, 4.6], "range": [179, 385.3], "nice": false, "zero": false}},
     "x2": {"field": "x2"}}},
   {"data": {"name": "b4"}, "mark": {"type": "text", "fontWeight": "bold", "fontSize": 12, "dy": -3, "baseline": "alphabetic", "color": "#222222"},
    "encoding": {
     "y": {"field": "v", "type": "quantitative", "scale": {"domain": [-101, 2121], "range": [285, 117.3], "nice": false, "zero": false}},
     "x": {"field": "xm", "type": "quantitative", "scale": {"domain": [0.4, 4.6], "range": [179, 385.3], "nice": false, "zero": false}},
     "text": {"field": "lab", "type": "nominal"}}}
  ]}
 ],
 "resolve": {"scale": {"x": "independent", "y": "independent"}}
}
], "spacing": 107, "bounds": "flush"}
],
"config": {
 "font": "Liberation Sans",
 "view": {"stroke": null},
 "axis": {"grid": false, "domainColor": "#000000", "domainWidth": 1.3, "tickColor": "#333333", "tickWidth": 1.3, "tickSize": 5, "labelFontSize": 17, "labelColor": "#4D4D4D", "labelPadding": 3, "titleFontSize": 20, "titleFontWeight": "normal", "titleColor": "#000000", "labelFlush": false, "labelOverlap": false},
 "title": {"fontSize": 20, "fontWeight": "bold", "color": "#000000", "frame": "group", "anchor": "middle", "offset": 8}
}
}
